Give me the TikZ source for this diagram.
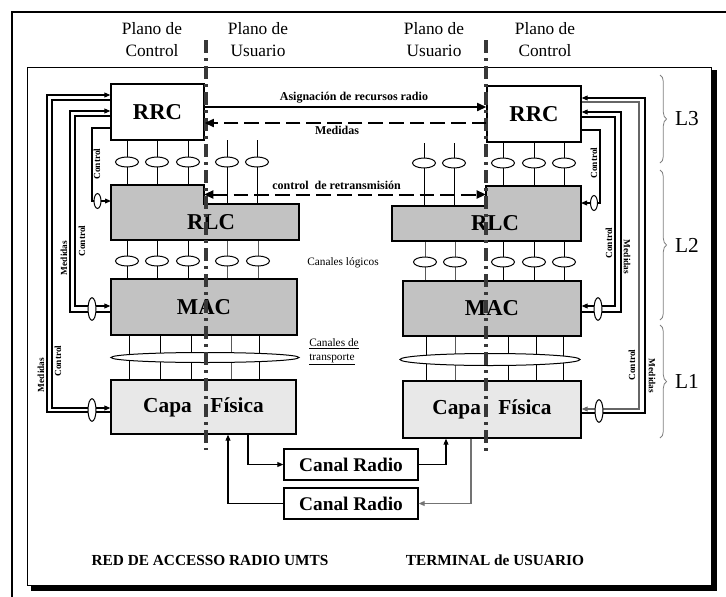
\documentclass[tikz,border=0pt]{standalone}
\usepackage{fontspec}
\setmainfont{Liberation Serif}
\usepackage{xcolor}
\usepackage{tikz}
\usetikzlibrary{arrows.meta,positioning,decorations.pathreplacing,calc}
\definecolor{laygray}{gray}{0.76}
\definecolor{phygray}{gray}{0.91}
\definecolor{sepgray}{gray}{0.22}

\begin{document}
\begin{tikzpicture}[x=0.75pt, y=-0.75pt,
    lay/.style={draw, line width=0.9pt, fill=laygray, inner sep=0pt,
                font=\fontsize{17}{20}\selectfont\bfseries},
    rrcbox/.style={lay, fill=white},
    phybox/.style={lay, fill=phygray, font=\fontsize{16}{19}\selectfont\bfseries},
    laypath/.style={draw, line width=0.9pt, fill=laygray},
    laytxt/.style={inner sep=0pt, font=\fontsize{17}{20}\selectfont\bfseries},
    radiobox/.style={draw, line width=0.9pt, fill=white, inner sep=0pt,
                minimum width=100.5pt, minimum height=23.25pt,
                font=\fontsize{14.5}{17}\selectfont\bfseries},
    plane/.style={align=center, inner sep=0pt, font=\fontsize{13}{16.5}\selectfont},
    chan/.style={line width=0.75pt},
    userchan/.style={chan, draw=black!65},
    sap/.style={draw, line width=0.75pt, fill=white},
    planesep/.style={draw=sepgray, line width=2.4pt,
                dash pattern=on 9.75pt off 3.75pt on 2.25pt off 3.75pt},
    sig/.style={line width=0.8pt, -{Triangle[length=4.5pt,width=3.6pt]}},
    sigtxt/.style={font=\fontsize{7}{8}\selectfont\bfseries, rotate=90, inner sep=0pt},
    bigarr/.style={line width=1.5pt, -{Triangle[length=7pt,width=6pt]}},
    bigdash/.style={bigarr, dash pattern=on 11pt off 4.5pt},
    msgtxt/.style={font=\fontsize{9}{10}\selectfont\bfseries, inner sep=0pt},
    chtxt/.style={font=\fontsize{8.5}{10}\selectfont, align=left, inner sep=0pt},
    brc/.style={decorate, decoration={brace, amplitude=5pt}, draw=gray, line width=0.6pt},
    lvl/.style={font=\fontsize{16}{18}\selectfont, inner sep=0pt},
    foot/.style={font=\fontsize{11.5}{13}\selectfont\bfseries, inner sep=0pt}
  ]
  \useasboundingbox (0,0) rectangle (726,597);
  \draw[line width=1.1pt] (12,597) -- (12,12) -- (726,12);
  \draw[line width=0.75pt] (27,67) rectangle (711,585);
  \draw[line width=3.75pt] (31,588) -- (714.5,588) -- (714.5,70);

  \node[plane] (pcL) at (152,40) {Plano de\\Control};
  \node[plane] (puL) at (258,40) {Plano de\\Usuario};
  \node[plane] (puR) at (434,40) {Plano de\\Usuario};
  \node[plane] (pcR) at (545,40) {Plano de\\Control};

  \foreach \x in {127,157,188} \draw[chan] (\x,140) -- (\x,185);
  \foreach \x in {227,257} \draw[chan] (\x,140) -- (\x,204);
  \foreach \x in {503,534,564} \draw[chan] (\x,142) -- (\x,186);
  \foreach \x in {424,454} \draw[chan] (\x,143) -- (\x,206);
  \foreach \x in {127,157,188,227,257} \draw[sap] (\x,162) ellipse [x radius=8.6pt, y radius=3.75pt];
  \foreach \x in {424,454,503,534,564} \draw[sap] (\x,163) ellipse [x radius=8.6pt, y radius=3.75pt];

  \foreach \x in {127,157,188} \draw[chan] (\x,240) -- (\x,279);
  \foreach \x in {227,258} \draw[userchan] (\x,240) -- (\x,279);
  \foreach \x in {503,534,564} \draw[chan] (\x,241) -- (\x,281);
  \foreach \x in {425,455} \draw[userchan] (\x,241) -- (\x,281);
  \foreach \x in {127,157,188,227,258} \draw[sap] (\x,261) ellipse [x radius=8.6pt, y radius=3.75pt];
  \foreach \x in {425,455,503,534,564} \draw[sap] (\x,262) ellipse [x radius=8.6pt, y radius=3.75pt];

  \foreach \x in {129,160,191,259} \draw[chan] (\x,335) -- (\x,380);
  \draw[userchan] (231,335) -- (231,380);
  \foreach \x in {426,508,536,563} \draw[chan] (\x,336) -- (\x,381);
  \draw[userchan] (455,336) -- (455,381);
  \draw[sap] (205,357.5) ellipse [x radius=70.5pt, y radius=3.75pt];
  \draw[sap] (490,359.5) ellipse [x radius=67.5pt, y radius=4.5pt];

  \node[rrcbox, minimum width=69.75pt, minimum height=42pt] (rrcL) at (157.5,112) {RRC};
  \node[rrcbox, minimum width=70.5pt, minimum height=42pt] (rrcR) at (534,114) {RRC};
  \filldraw[laypath] (111,185) -- (204,185) -- (204,204) -- (299,204) -- (299,240) -- (111,240) -- cycle;
  \filldraw[laypath] (392,206) -- (486,206) -- (486,186) -- (581,186) -- (581,241) -- (392,241) -- cycle;
  \node[laytxt] (rlcL) at (211,222) {RLC};
  \node[laytxt] (rlcR) at (495,223) {RLC};
  \coordinate (rlcLw) at (111,201);
  \coordinate (rlcLe) at (204,194.5);
  \coordinate (rlcRw) at (486,194.5);
  \coordinate (rlcRe) at (581,203);
  \node[lay, minimum width=139.5pt, minimum height=42pt] (macL) at (204,307) {MAC};
  \node[lay, minimum width=133.5pt, minimum height=41.25pt] (macR) at (492,308.5) {MAC};
  \node[phybox, minimum width=138.75pt, minimum height=40.5pt] (phyL) at (203.5,407) {Capa\hspace{14pt}Física};
  \node[phybox, minimum width=133.5pt, minimum height=42.75pt] (phyR) at (492,409.5) {Capa\hspace{13pt}Física};
  \node[radiobox] (crU) at (351,464.5) {Canal Radio};
  \node[radiobox] (crD) at (351,503.5) {Canal Radio};

  \draw[planesep] (206,40) -- (206,450);
  \draw[planesep] (486,40) -- (486,451);

  \draw[bigarr] (rrcL.east |- 0,107) -- (rrcR.west |- 0,107)
    node[msgtxt, pos=0.53, above=2pt] {Asignación de recursos radio};
  \draw[bigdash] (rrcR.west |- 0,123) -- (rrcL.east |- 0,123)
    node[msgtxt, pos=0.53, below=2pt] {Medidas};
  \draw[bigdash, {Triangle[length=7pt,width=6pt]}-{Triangle[length=7pt,width=6pt]}] (rlcLe) -- (rlcRw)
    node[msgtxt, pos=0.47, above=3pt] {control~ de retransmisión};
  \node[chtxt] (logch) at (343,263) {Canales lógicos};
  \node[chtxt] (trch) at (334,352) {\underline{Canales de}\\\underline{transporte}};

  \draw[sig] (phyL.south -| 248,0) |- (crU.west);
  \draw[sig] (crD.west) -| (phyL.south -| 228,0);
  \draw[sig] (crU.east) -| (phyR.south -| 446,0);
  \draw[sig, draw=black!55] (phyR.south -| 471,0) |- (crD.east);

  \draw[sig] (rrcL.west |- 0,128) -| (92,201) -- (rlcLw);
  \draw[sig] (rrcL.west |- 0,116) -| (75,306) -- (macL.west |- 0,306);
  \draw[sig] (macL.west |- 0,312) -| (70,111) -- (rrcL.west |- 0,111);
  \draw[sig] (rrcL.west |- 0,100) -| (52,408) -- (phyL.west |- 0,408);
  \draw[sig] (phyL.west |- 0,412) -| (47,95) -- (rrcL.west |- 0,95);
  \draw[sap] (97.5,201) ellipse [x radius=2.6pt, y radius=5.6pt];
  \draw[sap] (92,309) ellipse [x radius=3pt, y radius=8.5pt];
  \draw[sap] (92,410) ellipse [x radius=3pt, y radius=8.5pt];
  \node[sigtxt] at (97,164) {Control};
  \node[sigtxt] at (82,241) {Control};
  \node[sigtxt] at (64,258) {Medidas};
  \node[sigtxt] at (58,361) {Control};
  \node[sigtxt] at (41,375) {Medidas};

  \draw[sig] (rrcR.east |- 0,130) -| (600,203) -- (rlcRe);
  \draw[sig] (rrcR.east |- 0,117) -| (615,306) -- (macR.east |- 0,306);
  \draw[sig] (macR.east |- 0,312) -| (621,112) -- (rrcR.east |- 0,112);
  \draw[sig, draw=black!60] (rrcR.east |- 0,102) -| (639,409) -- (phyR.east |- 0,409);
  \draw[sig] (phyR.east |- 0,413) -| (645,98) -- (rrcR.east |- 0,98);
  \draw[sap] (594,203) ellipse [x radius=2.6pt, y radius=5.6pt];
  \draw[sap] (598,309) ellipse [x radius=3pt, y radius=8.5pt];
  \draw[sap] (599,411) ellipse [x radius=3pt, y radius=8.5pt];
  \node[sigtxt] at (594,163) {Control};
  \node[sigtxt] at (609,243) {Control};
  \node[sigtxt, rotate=180] at (627,257) {Medidas};
  \node[sigtxt] at (632,365) {Control};
  \node[sigtxt, rotate=180] at (652,376) {Medidas};

  \draw[brc] (660,75) -- (660,163) node[lvl, midway, right=11pt] {L3};
  \draw[brc] (660,170) -- (660,320) node[lvl, midway, right=11pt] {L2};
  \draw[brc] (660,325) -- (660,438) node[lvl, midway, right=11pt] {L1};

  \node[foot] (ran) at (210,560) {RED DE ACCESSO RADIO UMTS};
  \node[foot] (ue) at (495,560) {TERMINAL de USUARIO};
\end{tikzpicture}
\end{document}
